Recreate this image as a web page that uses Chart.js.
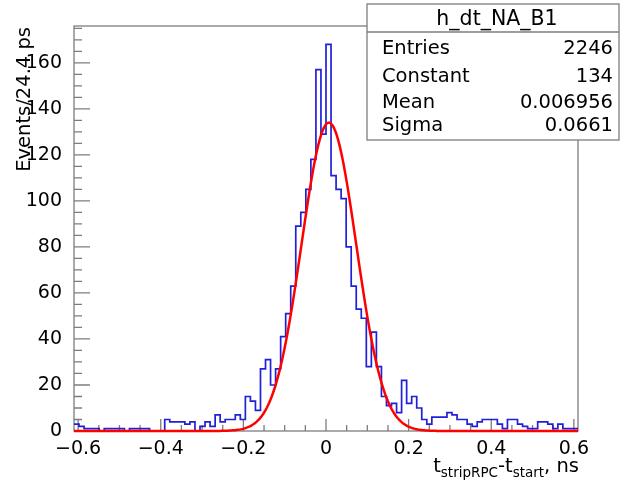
<!DOCTYPE html>
<html>
<head>
<meta charset="utf-8">
<script src="https://cdn.jsdelivr.net/npm/chart.js@4.4.1/dist/chart.umd.min.js"></script>
<style>
  html, body { margin: 0; padding: 0; background: #fff; }
  #wrap { width: 621px; height: 485px; position: relative; }
</style>
</head>
<body>
<div id="wrap"><canvas id="chart"></canvas></div>
<script>
// histogram h_dt_NA_B1, 100 bins between -0.61 and 0.61 ns
const binLow = -0.61;
const binHigh = 0.61;
const counts = [
  3, 3, 2, 1, 1, 1, 0, 1, 1, 1,
  1, 0, 1, 1, 1, 1, 0, 0, 0, 5,
  4, 4, 4, 3, 4, 0, 2, 4, 2, 7,
  4, 5, 5, 7, 5, 15, 13, 9, 27, 31,
  20, 27, 41, 51, 63, 89, 95, 105, 118, 157,
  129, 168, 111, 105, 101, 80, 63, 53, 49, 28,
  43, 28, 15, 11, 12, 8, 22, 12, 15, 10,
  5, 3, 6, 6, 6, 8, 7, 5, 5, 3,
  2, 4, 5, 5, 5, 3, 1, 5, 5, 3,
  2, 1, 1, 4, 4, 3, 1, 3, 1, 1
];

// gaus fit parameters (from the stats box)
const fitConstant = 134;
const fitMean = 0.006956;
const fitSigma = 0.0661;

const statsTitle = 'h_dt_NA_B1';
const statsNames = ['Entries', 'Constant', 'Mean', 'Sigma'];
const statsValues = ['2246', '134', '0.006956', '0.0661'];

const xTicks = [-0.6, -0.4, -0.2, 0, 0.2, 0.4, 0.6];
const yTicks = [0, 20, 40, 60, 80, 100, 120, 140, 160];
const yMax = 176;

const FONT = '"DejaVu Sans", sans-serif';

const binWidth = (binHigh - binLow) / counts.length;
const histPoints = counts.map((c, i) => ({ x: binLow + i * binWidth, y: c }));
histPoints.push({ x: binHigh, y: counts[counts.length - 1] });

const fitPoints = [];
for (let i = 0; i <= 400; i++) {
    const x = binLow + (binHigh - binLow) * i / 400;
    const z = (x - fitMean) / fitSigma;
    fitPoints.push({ x: x, y: fitConstant * Math.exp(-0.5 * z * z) });
}

// frame + inward ticks, ROOT style
const framePlugin = {
    id: 'frame',
    beforeDatasetsDraw(chart) {
        const { ctx, chartArea: a, scales: { x, y } } = chart;
        ctx.save();
        ctx.strokeStyle = '#7d7d7d';
        ctx.lineWidth = 1.3;
        ctx.strokeRect(a.left, a.top, a.right - a.left, a.bottom - a.top);
        ctx.beginPath();
        for (let v = 0; v <= y.max; v += 5) {
            const py = y.getPixelForValue(v);
            const len = v % 20 === 0 ? 16 : 8;
            ctx.moveTo(a.left, py);
            ctx.lineTo(a.left + len, py);
        }
        for (let i = -12; i <= 12; i++) {
            const v = i * 0.05;
            const px = x.getPixelForValue(v);
            const len = i % 4 === 0 ? 12 : 6;
            ctx.moveTo(px, a.bottom);
            ctx.lineTo(px, a.bottom - len);
        }
        ctx.stroke();
        ctx.restore();
    }
};

// axis titles and stats box
const textPlugin = {
    id: 'texts',
    afterDraw(chart) {
        const { ctx, chartArea: a } = chart;
        ctx.save();
        ctx.fillStyle = '#000';

        // y title
        ctx.save();
        ctx.translate(30, a.top + 1);
        ctx.rotate(-Math.PI / 2);
        ctx.font = '19.5px ' + FONT;
        ctx.textAlign = 'right';
        ctx.textBaseline = 'alphabetic';
        ctx.fillText('Events/24.4 ps', 0, 0);
        ctx.restore();

        // x title with subscripts
        const main = '19.5px ' + FONT;
        const sub = '13.5px ' + FONT;
        const parts = [
            { t: 't', f: main, y: 472 },
            { t: 'stripRPC', f: sub, y: 476.5 },
            { t: '-t', f: main, y: 472 },
            { t: 'start', f: sub, y: 476.5 },
            { t: ', ns', f: main, y: 472 }
        ];
        let total = 0;
        parts.forEach(p => { ctx.font = p.f; p.w = ctx.measureText(p.t).width; total += p.w; });
        let px = a.right + 1 - total;
        ctx.textAlign = 'left';
        parts.forEach(p => { ctx.font = p.f; ctx.fillText(p.t, px, p.y); px += p.w; });

        // stats box
        const bx = 367, by = 4, bw = 252, bh = 136;
        ctx.fillStyle = '#fff';
        ctx.fillRect(bx, by, bw, bh);
        ctx.strokeStyle = '#7d7d7d';
        ctx.lineWidth = 1.3;
        ctx.strokeRect(bx, by, bw, bh);
        ctx.beginPath();
        ctx.moveTo(bx, 32);
        ctx.lineTo(bx + bw, 32);
        ctx.stroke();

        ctx.fillStyle = '#000';
        ctx.font = '20.5px ' + FONT;
        ctx.textAlign = 'center';
        ctx.fillText(statsTitle, bx + bw / 2 + 4, 25);
        ctx.font = '19.5px ' + FONT;
        const rows = [54, 81.5, 108, 131];
        statsNames.forEach((n, i) => {
            ctx.textAlign = 'left';
            ctx.fillText(n, 382, rows[i]);
            ctx.textAlign = 'right';
            ctx.fillText(statsValues[i], 613, rows[i]);
        });
        ctx.restore();
    }
};

const tickFont = { family: FONT, size: 19 };

new Chart(document.getElementById('chart'), {
    type: 'line',
    data: {
        datasets: [
            {
                label: 'gaus',
                data: fitPoints,
                borderColor: '#ff0000',
                borderWidth: 2.5,
                pointRadius: 0,
                tension: 0,
                fill: false,
                clip: 4
            },
            {
                label: statsTitle,
                data: histPoints,
                stepped: 'after',
                borderColor: '#2020d8',
                borderWidth: 1.7,
                pointRadius: 0,
                fill: false,
                clip: 4
            }
        ]
    },
    options: {
        responsive: true,
        maintainAspectRatio: false,
        animation: false,
        devicePixelRatio: 1,
        layout: { padding: { left: 0, top: 26, right: 43, bottom: 0 } },
        plugins: { legend: { display: false }, tooltip: { enabled: false } },
        scales: {
            x: {
                type: 'linear',
                min: binLow,
                max: binHigh,
                grid: { display: false },
                border: { display: false },
                ticks: {
                    font: tickFont,
                    color: '#000',
                    padding: -1,
                    maxRotation: 0,
                    autoSkip: false,
                    callback: v => v === 0 ? '0' : (v < 0 ? '\u2212' : '') + Math.abs(v).toFixed(1)
                },
                afterBuildTicks: s => { s.ticks = xTicks.map(v => ({ value: v })); },
                afterFit: s => { s.height = 54; }
            },
            y: {
                min: 0,
                max: yMax,
                grid: { display: false },
                border: { display: false },
                ticks: { font: tickFont, color: '#000', padding: 4 },
                afterBuildTicks: s => { s.ticks = yTicks.map(v => ({ value: v })); },
                afterFit: s => { s.width = 74; }
            }
        }
    },
    plugins: [framePlugin, textPlugin]
});
</script>
</body>
</html>
